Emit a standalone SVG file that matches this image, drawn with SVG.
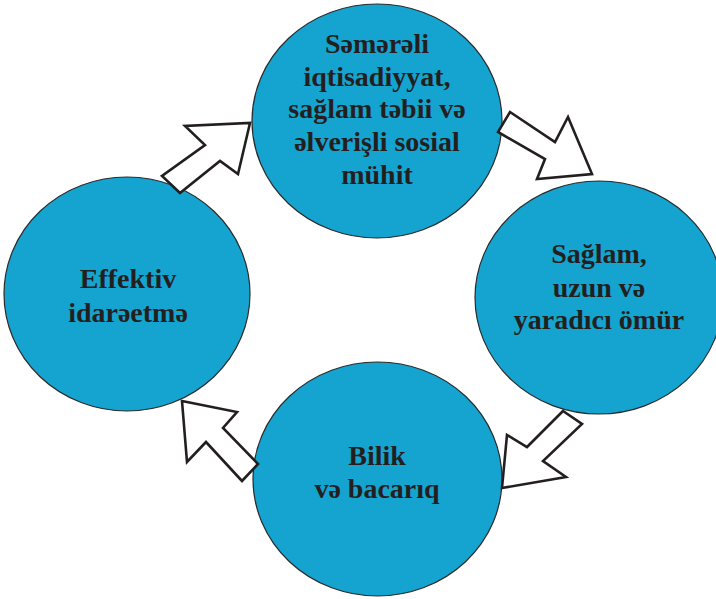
<svg xmlns="http://www.w3.org/2000/svg" width="716" height="599" viewBox="0 0 716 599">
<style>
.node{fill:#14a4cf;stroke:#2a2a2a;stroke-width:1.2}
.lbl{font-family:"Liberation Serif","DejaVu Serif",serif;font-weight:bold;font-size:28px;fill:#231f20;text-anchor:middle}
.arrow{fill:#ffffff;stroke:#231f20;stroke-width:2.6;stroke-linejoin:miter}
</style>
<rect width="716" height="599" fill="#ffffff"/>
<g id="node-top">
<ellipse class="node" cx="377" cy="121" rx="125" ry="117"/>
<text class="lbl" x="377" y="53">Səmərəli</text>
<text class="lbl" x="377" y="86">iqtisadiyyat,</text>
<text class="lbl" x="377" y="118">sağlam təbii və</text>
<text class="lbl" x="377" y="151">əlverişli sosial</text>
<text class="lbl" x="377" y="184">mühit</text>
</g>
<g id="node-right">
<ellipse class="node" cx="599" cy="297.5" rx="124" ry="116.5"/>
<text class="lbl" x="599" y="263">Sağlam,</text>
<text class="lbl" x="599" y="297">uzun və</text>
<text class="lbl" x="599" y="329">yaradıcı ömür</text>
</g>
<g id="node-bottom">
<ellipse class="node" cx="377.5" cy="479" rx="124.5" ry="117"/>
<text class="lbl" x="377" y="465">Bilik</text>
<text class="lbl" x="377" y="498">və bacarıq</text>
</g>
<g id="node-left">
<ellipse class="node" cx="127" cy="294" rx="123" ry="117"/>
<text class="lbl" x="128" y="288">Effektiv</text>
<text class="lbl" x="128" y="322">idarəetmə</text>
</g>
<g id="connectors">
<polygon class="arrow" points="250,123 238,174 220,161 180,193 162,176 205,145 185,126"/>
<polygon class="arrow" points="510,112 555,142 568,117 592,174 537,179 545,159 498,132"/>
<polygon class="arrow" points="563,411 582,424 543,461 566,477 502,488 507,435 527,447"/>
<polygon class="arrow" points="182,401 237,412 223,428 258,464 242,481 206,442 187,462"/>
</g>
</svg>
